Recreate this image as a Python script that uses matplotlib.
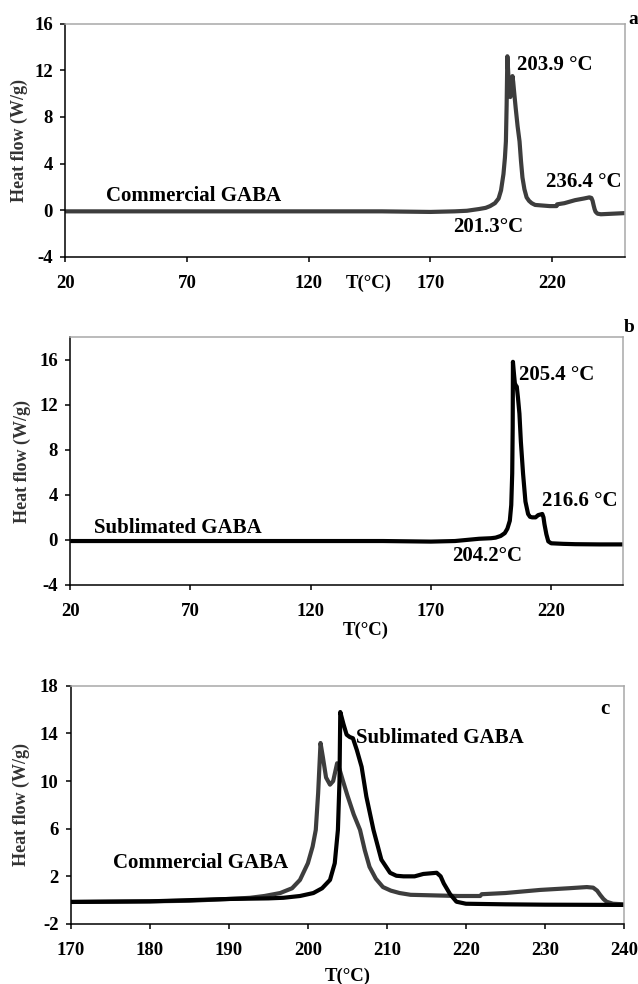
import matplotlib.pyplot as plt

plt.rcParams['font.family'] = ['Liberation Serif', 'DejaVu Serif']
plt.rcParams['font.weight'] = 'bold'
plt.rcParams['axes.labelweight'] = 'bold'
plt.rcParams['axes.unicode_minus'] = False

# commercial GABA DSC trace (T in degC, heat flow in W/g)
comm_T = [20, 50, 100, 150, 170, 180, 185, 190, 192.7, 194.5, 196.5, 198, 199, 200,
          200.6, 201.0, 201.3, 201.6, 201.9, 202.3, 202.8, 203.2, 203.7, 204.0, 204.4,
          205.0, 205.8, 206.6, 207.2, 207.8, 208.6, 209.5, 210.5, 211.6, 213, 216, 219,
          221.8, 222.0, 225, 229.4, 233, 235.3, 236.1, 236.6, 237.0, 237.4, 237.8, 238.6,
          240, 245, 250]
comm_HF = [-0.1, -0.1, -0.1, -0.1, -0.15, -0.1, -0.05, 0.1, 0.2, 0.35, 0.6, 1.0, 1.7, 3.1,
           4.5, 5.9, 9.0, 13.2, 12.0, 10.3, 9.7, 10.0, 11.5, 11.0, 10.1,
           8.8, 7.2, 5.9, 4.2, 2.8, 1.8, 1.1, 0.8, 0.6, 0.45, 0.4, 0.35,
           0.35, 0.5, 0.6, 0.86, 1.0, 1.1, 1.05, 0.8, 0.43, 0.1, -0.13, -0.3,
           -0.35, -0.3, -0.25]

# sublimated GABA DSC trace
subl_T = [20, 100, 150, 170, 180, 190, 195, 196.9, 199, 200.7, 201.8, 202.8, 203.4, 203.8,
          204.0, 204.1, 204.5, 204.9, 205.3, 205.7, 206.2, 206.8, 207.4, 208.3, 209.3,
          210.4, 211.2, 212.1, 213.5, 214.6, 216.3, 216.8, 217.2, 218.0, 218.8, 220,
          225, 230, 240, 250]
subl_HF = [-0.1, -0.1, -0.1, -0.15, -0.1, 0.1, 0.15, 0.2, 0.35, 0.6, 1.0, 1.7, 3.1, 5.9,
           10.0, 15.8, 14.8, 13.9, 13.7, 13.6, 12.6, 11.2, 8.7, 5.9, 3.4,
           2.3, 2.05, 2.0, 2.0, 2.2, 2.3, 2.0, 1.4, 0.5, -0.13, -0.3,
           -0.35, -0.38, -0.4, -0.4]

wide_xticks = [20, 70, 120, 170, 220]
zoom_xticks = [170, 180, 190, 200, 210, 220, 230, 240]

GRAY = "#3d3d3d"
LW = 3.0
ANN = 15
TICK = 13.5


def style_axes(ax, xlim, ylim, xticks, yticks, ylabel_x):
    ax.set_xlim(xlim)
    ax.set_ylim(ylim)
    ax.set_xticks(xticks)
    ax.set_yticks(yticks)
    for s in ['left', 'bottom']:
        ax.spines[s].set_color('black')
        ax.spines[s].set_linewidth(1.1)
    for s in ['top', 'right']:
        ax.spines[s].set_color('#a8a8a8')
        ax.spines[s].set_linewidth(1.1)
    ax.tick_params(direction='out', length=3.8, width=1.1, labelsize=TICK)
    ax.tick_params(axis='x', pad=9)
    ax.tick_params(axis='y', pad=5)
    ax.set_ylabel('Heat flow (W/g)', fontsize=13, color='#333333')
    ax.yaxis.set_label_coords(ylabel_x, 0.5)


fig = plt.figure(figsize=(6.38, 9.84), dpi=100)

# panel a
ax_a = fig.add_axes([0.102, 0.739, 0.878, 0.237])
ax_a.plot(comm_T, comm_HF, color=GRAY, linewidth=LW, solid_capstyle='butt')
style_axes(ax_a, (20, 250), (-4, 16), wide_xticks, [-4, 0, 4, 8, 12, 16], -0.066)
ax_a.text(37, 0.8, 'Commercial GABA', fontsize=ANN)
ax_a.text(205.6, 12.0, '203.9 \u00b0C', fontsize=ANN)
ax_a.text(217.5, 2.0, '236.4 \u00b0C', fontsize=ANN)
ax_a.text(179.3, -1.85, '201.3\u00b0C', fontsize=ANN)
ax_a.text(144.5, -0.112, 'T(\u00b0C)', fontsize=TICK, ha='center', va='center',
          transform=ax_a.get_xaxis_transform())
fig.text(633 / 638, 1 - 20 / 984, 'a', fontsize=14, ha='center', va='center')

# panel b
ax_b = fig.add_axes([0.110, 0.4055, 0.867, 0.252])
ax_b.plot(subl_T, subl_HF, color='black', linewidth=LW, solid_capstyle='butt')
style_axes(ax_b, (20, 250), (-4, 18), wide_xticks, [-4, 0, 4, 8, 12, 16], -0.071)
ax_b.text(29.8, 0.6, 'Sublimated GABA', fontsize=ANN)
ax_b.text(206.6, 14.2, '205.4 \u00b0C', fontsize=ANN)
ax_b.text(216.0, 3.0, '216.6 \u00b0C', fontsize=ANN)
ax_b.text(178.7, -1.9, '204.2\u00b0C', fontsize=ANN)
ax_b.set_xlabel('T(\u00b0C)', fontsize=TICK)
ax_b.xaxis.set_label_coords(0.535, -0.148)
fig.text(629 / 638, 1 - 328 / 984, 'b', fontsize=14, ha='center', va='center')

# panel c
ax_c = fig.add_axes([0.111, 0.061, 0.867, 0.242])
ax_c.plot(comm_T, comm_HF, color=GRAY, linewidth=LW, solid_capstyle='butt')
ax_c.plot(subl_T, subl_HF, color='black', linewidth=LW, solid_capstyle='butt')
style_axes(ax_c, (170, 240), (-2, 18), zoom_xticks, [-2, 2, 6, 10, 14, 18], -0.073)
ax_c.text(206.1, 13.2, 'Sublimated GABA', fontsize=ANN)
ax_c.text(175.4, 2.7, 'Commercial GABA', fontsize=ANN)
ax_c.text(237.0, 15.6, 'c', fontsize=ANN)
ax_c.set_xlabel('T(\u00b0C)', fontsize=TICK)
ax_c.xaxis.set_label_coords(0.5, -0.183)

fig.savefig('out.png', dpi=100)
